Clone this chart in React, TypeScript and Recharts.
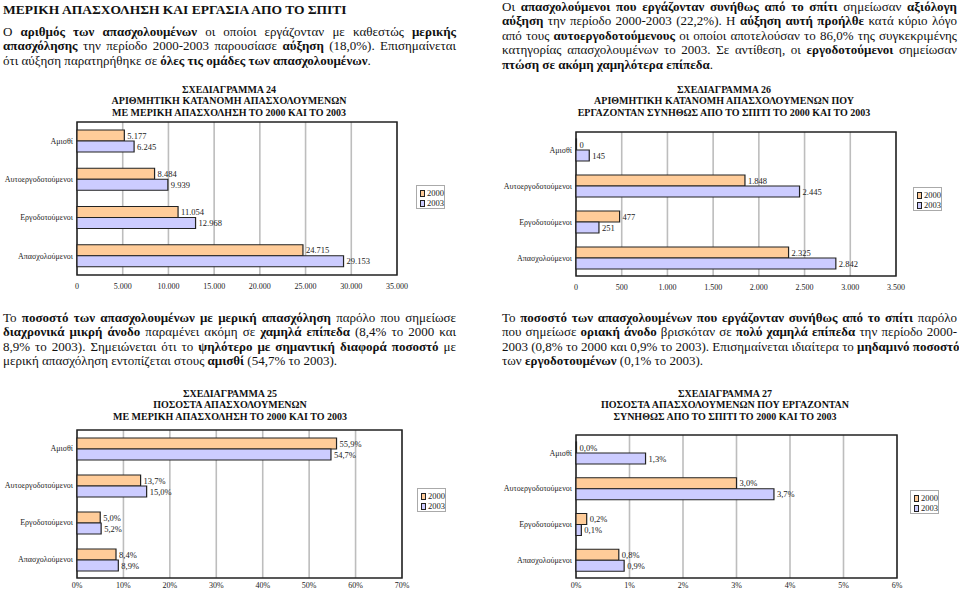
import React from "react";
import {
  BarChart,
  Bar,
  XAxis,
  YAxis,
  CartesianGrid,
  Legend,
  LabelList,
  ReferenceArea,
} from "recharts";

const categories = ["Αμισθί", "Αυτοεργοδοτούμενοι", "Εργοδοτούμενοι", "Απασχολούμενοι"];
const years = ["2000", "2003"];

// Σχεδιάγραμμα 24 - αριθμός με μερική απασχόληση
const partTime2000 = [5177, 8484, 11054, 24715];
const partTime2003 = [6245, 9939, 12968, 29153];
const partTimeTicks = [0, 5000, 10000, 15000, 20000, 25000, 30000, 35000];

// Σχεδιάγραμμα 26 - αριθμός που εργάζονταν από το σπίτι
const home2000 = [0, 1848, 477, 2325];
const home2003 = [145, 2445, 251, 2842];
const homeTicks = [0, 500, 1000, 1500, 2000, 2500, 3000, 3500];

// Σχεδιάγραμμα 25 - ποσοστά μερικής απασχόλησης
const partTimePct2000 = [55.9, 13.7, 5.0, 8.4];
const partTimePct2003 = [54.7, 15.0, 5.2, 8.9];
const partTimePctTicks = [0, 10, 20, 30, 40, 50, 60, 70];

// Σχεδιάγραμμα 27 - ποσοστά εργασίας από το σπίτι
const homePct2000 = [0.0, 3.0, 0.2, 0.8];
const homePct2003 = [1.3, 3.7, 0.1, 0.9];
const homePctTicks = [0, 1, 2, 3, 4, 5, 6];

const FONT = "'Liberation Serif', 'Times New Roman', serif";
const C2000 = "#FFCC99";
const C2003 = "#CCCCFF";

const fmtNum = (v: number) => String(v).replace(/\B(?=(\d{3})+(?!\d))/g, ".");
const fmtPct = (v: number) => v.toFixed(1).replace(".", ",") + "%";
const fmtTickPct = (v: number) => `${v}%`;

const build = (a: number[], b: number[]) =>
  categories.map((name, i) => ({ name, v2000: a[i], v2003: b[i] }));

function LegendBox({ payload }: any) {
  return (
    <div
      style={{
        width: 29,
        height: 24,
        border: "1px solid #aaa",
        background: "#fff",
        fontFamily: FONT,
        fontSize: 8.5,
        color: "#222",
        padding: "2px 0 0 3px",
        boxSizing: "border-box",
      }}
    >
      {(payload || []).map((p: any) => (
        <div key={p.value} style={{ display: "flex", alignItems: "center", height: 10 }}>
          <span
            style={{
              display: "inline-block",
              width: 5,
              height: 5,
              background: p.color,
              border: "1px solid #222",
              marginRight: 2,
            }}
          />
          {p.value}
        </div>
      ))}
    </div>
  );
}

interface PanelProps {
  left: number;
  top: number;
  width: number;
  plotHeight: number;
  right: number;
  yWidth: number;
  tickGap: number;
  a: number[];
  b: number[];
  ticks: number[];
  tickFmt: (v: number) => string;
  labelFmt: (v: number) => string;
  legendX: number;
  legendY: number;
}

function Panel(p: PanelProps) {
  const data = build(p.a, p.b);
  const max = p.ticks[p.ticks.length - 1];
  const height = 7 + p.plotHeight + 25;
  const labelStyle = { fontSize: 8.5, fill: "#222", fontFamily: FONT };
  return (
    <div style={{ position: "absolute", left: p.left, top: p.top }}>
      <BarChart
        width={p.width}
        height={height}
        data={data}
        layout="vertical"
        margin={{ top: 7, right: p.right, left: 0, bottom: 0 }}
        barSize={11}
        barGap={0}
      >
        <CartesianGrid horizontal={false} stroke="#bdbdbd" strokeWidth={1.6} />
        <XAxis
          type="number"
          domain={[0, max]}
          ticks={p.ticks}
          tickFormatter={p.tickFmt}
          axisLine={false}
          tickLine={false}
          tickSize={0}
          tickMargin={p.tickGap}
          height={25}
          interval={0}
          tick={{ fontSize: 8, fill: "#222", fontFamily: FONT }}
        />
        <YAxis
          type="category"
          dataKey="name"
          width={p.yWidth}
          axisLine={false}
          tickLine={false}
          tickSize={0}
          tickMargin={4}
          interval={0}
          tick={{ fontSize: 8, fill: "#222", fontFamily: FONT }}
        />
        <ReferenceArea x1={0} x2={max} fill="none" stroke="#222" strokeWidth={1.5} />
        <Legend
          content={<LegendBox />}
          wrapperStyle={{ left: p.legendX, top: p.legendY, width: 0, height: 0, overflow: "visible" }}
        />
        <Bar
          dataKey="v2000"
          name={years[0]}
          fill={C2000}
          stroke="#222"
          strokeWidth={1.2}
          minPointSize={0.5}
          isAnimationActive={false}
        >
          <LabelList dataKey="v2000" position="right" offset={3} formatter={p.labelFmt} style={labelStyle} />
        </Bar>
        <Bar
          dataKey="v2003"
          name={years[1]}
          fill={C2003}
          stroke="#222"
          strokeWidth={1.2}
          minPointSize={0.5}
          isAnimationActive={false}
        >
          <LabelList dataKey="v2003" position="right" offset={3} formatter={p.labelFmt} style={labelStyle} />
        </Bar>
      </BarChart>
    </div>
  );
}

function Title({ cx, top, lines }: { cx: number; top: number; lines: string[] }) {
  return (
    <div
      style={{
        position: "absolute",
        left: cx - 200,
        top,
        width: 400,
        textAlign: "center",
        fontFamily: FONT,
        fontWeight: "bold",
        fontSize: 10,
        lineHeight: "11.3px",
        color: "#111",
      }}
    >
      {lines.map((l) => (
        <div key={l}>{l}</div>
      ))}
    </div>
  );
}

// each line: array of [text, bold]
type Seg = [string, boolean];
function Para({ left, top, width, lines }: { left: number; top: number; width: number; lines: Seg[][] }) {
  return (
    <div
      style={{
        position: "absolute",
        left,
        top,
        width,
        fontFamily: FONT,
        fontSize: 13,
        lineHeight: "14.4px",
        color: "#111",
      }}
    >
      {lines.map((segs, i) => (
        <div
          key={i}
          style={{
            whiteSpace: "nowrap",
            textAlign: "justify",
            textAlignLast: i === lines.length - 1 ? "left" : "justify",
          }}
        >
          {segs.map(([t, b], j) => (b ? <b key={j}>{t}</b> : <span key={j}>{t}</span>))}
        </div>
      ))}
    </div>
  );
}

const para1: Seg[][] = [
  [["Ο ", false], ["αριθμός των απασχολουμένων", true], [" οι οποίοι εργάζονταν με καθεστώς ", false], ["μερικής", true]],
  [["απασχόλησης", true], [" την περίοδο 2000-2003 παρουσίασε ", false], ["αύξηση", true], [" (18,0%). Επισημαίνεται", false]],
  [["ότι αύξηση παρατηρήθηκε σε ", false], ["όλες τις ομάδες των απασχολουμένων", true], [".", false]],
];

const para2: Seg[][] = [
  [["Οι ", false], ["απασχολούμενοι που εργάζονταν συνήθως από το σπίτι", true], [" σημείωσαν ", false], ["αξιόλογη", true]],
  [["αύξηση", true], [" την περίοδο 2000-2003 (22,2%). Η ", false], ["αύξηση αυτή προήλθε", true], [" κατά κύριο λόγο", false]],
  [["από τους ", false], ["αυτοεργοδοτούμενους", true], [" οι οποίοι αποτελούσαν το 86,0% της συγκεκριμένης", false]],
  [["κατηγορίας απασχολουμένων το 2003. Σε αντίθεση, οι ", false], ["εργοδοτούμενοι", true], [" σημείωσαν", false]],
  [["πτώση σε ακόμη χαμηλότερα επίπεδα", true], [".", false]],
];

const para3: Seg[][] = [
  [["Το ", false], ["ποσοστό των απασχολουμένων με μερική απασχόληση", true], [" παρόλο που σημείωσε", false]],
  [["διαχρονικά μικρή άνοδο", true], [" παραμένει ακόμη σε ", false], ["χαμηλά επίπεδα", true], [" (8,4% το 2000 και", false]],
  [["8,9% το 2003). Σημειώνεται ότι το ", false], ["ψηλότερο με σημαντική διαφορά ποσοστό", true], [" με", false]],
  [["μερική απασχόληση εντοπίζεται στους ", false], ["αμισθί", true], [" (54,7% το 2003).", false]],
];

const para4: Seg[][] = [
  [["Το ", false], ["ποσοστό των απασχολουμένων που εργάζονταν συνήθως από το σπίτι", true], [" παρόλο", false]],
  [["που σημείωσε ", false], ["οριακή άνοδο", true], [" βρισκόταν σε ", false], ["πολύ χαμηλά επίπεδα", true], [" την περίοδο 2000-", false]],
  [["2003 (0,8% το 2000 και 0,9% το 2003). Επισημαίνεται ιδιαίτερα το ", false], ["μηδαμινό ποσοστό", true]],
  [["των ", false], ["εργοδοτουμένων", true], [" (0,1% το 2003).", false]],
];

export default function App() {
  return (
    <div
      style={{
        position: "absolute",
        left: 0,
        top: 0,
        width: 959,
        height: 592,
        overflow: "hidden",
        background: "#fff",
      }}
    >
      <div
        style={{
          position: "absolute",
          left: 3,
          top: 2,
          fontFamily: FONT,
          fontWeight: "bold",
          fontSize: 13.5,
          color: "#111",
          whiteSpace: "nowrap",
        }}
      >
        ΜΕΡΙΚΗ ΑΠΑΣΧΟΛΗΣΗ ΚΑΙ ΕΡΓΑΣΙΑ ΑΠΟ ΤΟ ΣΠΙΤΙ
      </div>
      <Para left={3} top={25} width={453} lines={para1} />
      <Para left={502} top={0} width={455} lines={para2} />
      <Para left={3} top={311} width={453} lines={para3} />
      <Para left={502} top={311} width={455} lines={para4} />

      <Title
        cx={229}
        top={84}
        lines={["ΣΧΕΔΙΑΓΡΑΜΜΑ 24", "ΑΡΙΘΜΗΤΙΚΗ ΚΑΤΑΝΟΜΗ ΑΠΑΣΧΟΛΟΥΜΕΝΩΝ", "ΜΕ ΜΕΡΙΚΗ ΑΠΑΣΧΟΛΗΣΗ ΤΟ 2000 ΚΑΙ ΤΟ 2003"]}
      />
      <Title
        cx={724}
        top={84}
        lines={["ΣΧΕΔΙΑΓΡΑΜΜΑ 26", "ΑΡΙΘΜΗΤΙΚΗ ΚΑΤΑΝΟΜΗ ΑΠΑΣΧΟΛΟΥΜΕΝΩΝ ΠΟΥ", "ΕΡΓΑΖΟΝΤΑΝ ΣΥΝΗΘΩΣ ΑΠΟ ΤΟ ΣΠΙΤΙ ΤΟ 2000 ΚΑΙ ΤΟ 2003"]}
      />
      <Title
        cx={230}
        top={388}
        lines={["ΣΧΕΔΙΑΓΡΑΜΜΑ 25", "ΠΟΣΟΣΤΑ ΑΠΑΣΧΟΛΟΥΜΕΝΩΝ", "ΜΕ ΜΕΡΙΚΗ ΑΠΑΣΧΟΛΗΣΗ ΤΟ 2000 ΚΑΙ ΤΟ 2003"]}
      />
      <Title
        cx={725}
        top={388}
        lines={["ΣΧΕΔΙΑΓΡΑΜΜΑ 27", "ΠΟΣΟΣΤΑ ΑΠΑΣΧΟΛΟΥΜΕΝΩΝ ΠΟΥ ΕΡΓΑΖΟΝΤΑΝ", "ΣΥΝΗΘΩΣ ΑΠΟ ΤΟ ΣΠΙΤΙ ΤΟ 2000 ΚΑΙ ΤΟ 2003"]}
      />

      <Panel
        left={0}
        top={115}
        width={480}
        plotHeight={153}
        right={83}
        yWidth={77}
        tickGap={8}
        a={partTime2000}
        b={partTime2003}
        ticks={partTimeTicks}
        tickFmt={fmtNum}
        labelFmt={fmtNum}
        legendX={416}
        legendY={70}
      />
      <Panel
        left={480}
        top={125}
        width={479}
        plotHeight={144}
        right={63}
        yWidth={96}
        tickGap={8}
        a={home2000}
        b={home2003}
        ticks={homeTicks}
        tickFmt={fmtNum}
        labelFmt={fmtNum}
        legendX={433}
        legendY={62}
      />
      <Panel
        left={0}
        top={423}
        width={480}
        plotHeight={148}
        right={78}
        yWidth={77}
        tickGap={4}
        a={partTimePct2000}
        b={partTimePct2003}
        ticks={partTimePctTicks}
        tickFmt={fmtTickPct}
        labelFmt={fmtPct}
        legendX={417}
        legendY={65}
      />
      <Panel
        left={480}
        top={428}
        width={479}
        plotHeight={143}
        right={62}
        yWidth={96}
        tickGap={4}
        a={homePct2000}
        b={homePct2003}
        ticks={homePctTicks}
        tickFmt={fmtTickPct}
        labelFmt={fmtPct}
        legendX={430}
        legendY={62}
      />
    </div>
  );
}
